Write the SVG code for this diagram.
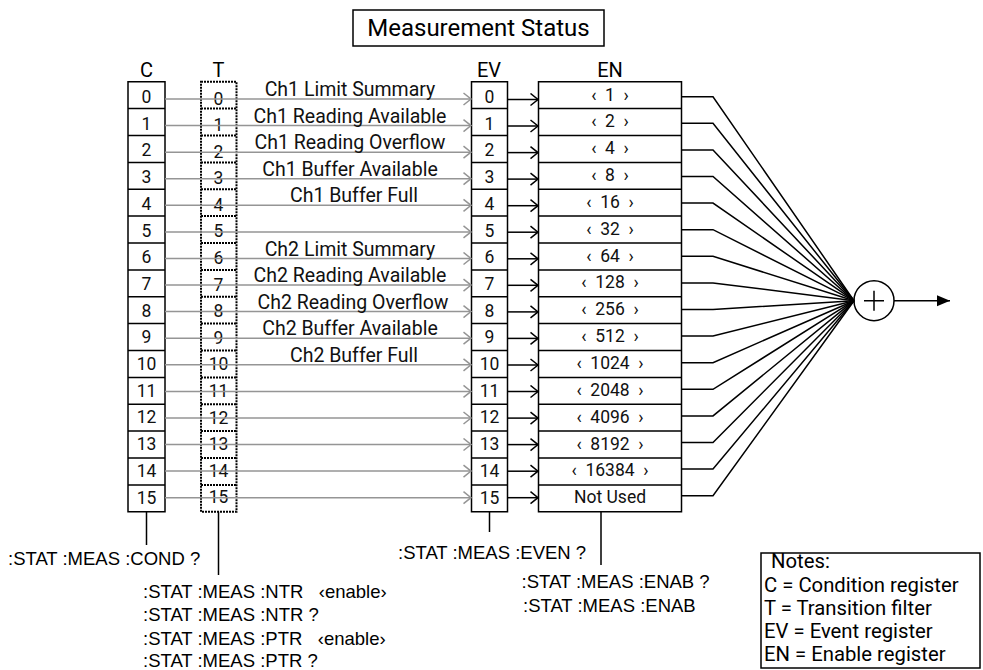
<svg xmlns="http://www.w3.org/2000/svg" width="983" height="670" viewBox="0 0 983 670">
<style>
.bx{fill:#fff;stroke:#000;stroke-width:1.5}
.sep{stroke:#000;stroke-width:1.5}
.dsh{fill:none;stroke:#000;stroke-width:2;stroke-dasharray:2 1}
.num{font-family:Roboto,"Liberation Sans",sans-serif;font-size:17.5px;text-anchor:middle;fill:#111;white-space:pre}
.hdr{font-family:Roboto,"Liberation Sans",sans-serif;font-size:20px;text-anchor:middle;fill:#000}
.lbl{font-family:Roboto,"Liberation Sans",sans-serif;font-size:19.5px;text-anchor:middle;fill:#111}
.cmd{font-family:"Liberation Sans",Arial,sans-serif;font-size:18.5px;fill:#000;white-space:pre}
.note{font-family:Roboto,"Liberation Sans",sans-serif;font-size:20.3px;fill:#000}
.g{stroke:#959595;stroke-width:1.5;fill:none}
.k{stroke:#000;stroke-width:1.5;fill:none}
</style>
<defs>
<marker id="og" markerUnits="userSpaceOnUse" markerWidth="10" markerHeight="14" refX="8.5" refY="7" orient="auto">
<path d="M1,1 L8.5,7 L1,13" fill="none" stroke="#959595" stroke-width="1.5"/>
</marker>
<marker id="ok" markerUnits="userSpaceOnUse" markerWidth="10" markerHeight="14" refX="8.5" refY="7" orient="auto">
<path d="M1,1 L8.5,7 L1,13" fill="none" stroke="#000" stroke-width="1.5"/>
</marker>
<marker id="fk" markerUnits="userSpaceOnUse" markerWidth="14" markerHeight="12" refX="13" refY="6" orient="auto">
<path d="M0,0.5 L13,6 L0,11.5 Z" fill="#000"/>
</marker>
</defs>
<rect width="983" height="670" fill="#fff"/>

<g id="title">
<rect x="353" y="10" width="251" height="36" class="bx"/>
<text x="478.5" y="36" class="hdr" style="font-size:24px">Measurement Status</text>
</g>

<g id="headers">
<text x="146.5" y="77" class="hdr">C</text>
<text x="218.5" y="77" class="hdr">T</text>
<text x="489" y="77" class="hdr">EV</text>
<text x="610" y="77" class="hdr">EN</text>
</g>

<g id="reg-C">
<rect x="128" y="81.75" width="37" height="430" class="bx"/>
<path class="sep" d="M128,108.6H165M128,135.5H165M128,162.4H165M128,189.3H165M128,216.1H165M128,243H165M128,269.9H165M128,296.8H165M128,323.6H165M128,350.5H165M128,377.4H165M128,404.3H165M128,431.1H165M128,458H165M128,484.9H165"/>
<text class="num" x="146.5" y="103">0</text><text class="num" x="146.5" y="129.7">1</text><text class="num" x="146.5" y="156.4">2</text><text class="num" x="146.5" y="183.1">3</text><text class="num" x="146.5" y="209.8">4</text><text class="num" x="146.5" y="236.5">5</text><text class="num" x="146.5" y="263.2">6</text><text class="num" x="146.5" y="289.9">7</text><text class="num" x="146.5" y="316.6">8</text><text class="num" x="146.5" y="343.3">9</text><text class="num" x="146.5" y="370">10</text><text class="num" x="146.5" y="396.7">11</text><text class="num" x="146.5" y="423.4">12</text><text class="num" x="146.5" y="450.1">13</text><text class="num" x="146.5" y="476.8">14</text><text class="num" x="146.5" y="503.5">15</text>
</g>

<g id="reg-T">
<rect x="201" y="81.75" width="35.5" height="430" class="dsh"/>
<path class="dsh" d="M201,108.6H236.5M201,135.5H236.5M201,162.4H236.5M201,189.3H236.5M201,216.1H236.5M201,243H236.5M201,269.9H236.5M201,296.8H236.5M201,323.6H236.5M201,350.5H236.5M201,377.4H236.5M201,404.3H236.5M201,431.1H236.5M201,458H236.5M201,484.9H236.5"/>
<text class="num" x="218.5" y="104.5">0</text><text class="num" x="218.5" y="131">1</text><text class="num" x="218.5" y="157.6">2</text><text class="num" x="218.5" y="184.2">3</text><text class="num" x="218.5" y="210.8">4</text><text class="num" x="218.5" y="237.4">5</text><text class="num" x="218.5" y="264">6</text><text class="num" x="218.5" y="290.6">7</text><text class="num" x="218.5" y="317.2">8</text><text class="num" x="218.5" y="343.8">9</text><text class="num" x="218.5" y="370.4">10</text><text class="num" x="218.5" y="397">11</text><text class="num" x="218.5" y="423.6">12</text><text class="num" x="218.5" y="450.2">13</text><text class="num" x="218.5" y="476.8">14</text><text class="num" x="218.5" y="503.4">15</text>
</g>

<g id="reg-EV">
<rect x="471.5" y="81.75" width="36" height="430" class="bx"/>
<path class="sep" d="M471.5,108.6H507.5M471.5,135.5H507.5M471.5,162.4H507.5M471.5,189.3H507.5M471.5,216.1H507.5M471.5,243H507.5M471.5,269.9H507.5M471.5,296.8H507.5M471.5,323.6H507.5M471.5,350.5H507.5M471.5,377.4H507.5M471.5,404.3H507.5M471.5,431.1H507.5M471.5,458H507.5M471.5,484.9H507.5"/>
<text class="num" x="489.5" y="103">0</text><text class="num" x="489.5" y="129.7">1</text><text class="num" x="489.5" y="156.4">2</text><text class="num" x="489.5" y="183.1">3</text><text class="num" x="489.5" y="209.8">4</text><text class="num" x="489.5" y="236.5">5</text><text class="num" x="489.5" y="263.2">6</text><text class="num" x="489.5" y="289.9">7</text><text class="num" x="489.5" y="316.6">8</text><text class="num" x="489.5" y="343.3">9</text><text class="num" x="489.5" y="370">10</text><text class="num" x="489.5" y="396.7">11</text><text class="num" x="489.5" y="423.4">12</text><text class="num" x="489.5" y="450.1">13</text><text class="num" x="489.5" y="476.8">14</text><text class="num" x="489.5" y="503.5">15</text>
</g>

<g id="reg-EN">
<rect x="538.5" y="81.75" width="143" height="430" class="bx"/>
<path class="sep" d="M538.5,108.6H681.5M538.5,135.5H681.5M538.5,162.4H681.5M538.5,189.3H681.5M538.5,216.1H681.5M538.5,243H681.5M538.5,269.9H681.5M538.5,296.8H681.5M538.5,323.6H681.5M538.5,350.5H681.5M538.5,377.4H681.5M538.5,404.3H681.5M538.5,431.1H681.5M538.5,458H681.5M538.5,484.9H681.5"/>
<text class="num" x="610" y="100.5">‹  1  ›</text><text class="num" x="610" y="127.3">‹  2  ›</text><text class="num" x="610" y="154.2">‹  4  ›</text><text class="num" x="610" y="181">‹  8  ›</text><text class="num" x="610" y="207.9">‹  16  ›</text><text class="num" x="610" y="234.7">‹  32  ›</text><text class="num" x="610" y="261.6">‹  64  ›</text><text class="num" x="610" y="288.4">‹  128  ›</text><text class="num" x="610" y="315.3">‹  256  ›</text><text class="num" x="610" y="342.1">‹  512  ›</text><text class="num" x="610" y="369">‹  1024  ›</text><text class="num" x="610" y="395.8">‹  2048  ›</text><text class="num" x="610" y="422.7">‹  4096  ›</text><text class="num" x="610" y="449.5">‹  8192  ›</text><text class="num" x="610" y="476.4">‹  16384  ›</text><text class="num" x="610" y="503">Not Used</text>
</g>

<g id="sum">
<circle cx="874" cy="300.7" r="20" fill="#fff" stroke="#000" stroke-width="1.5"/>
<path d="M864,300.7H884M874,290.7V310.7" stroke="#000" stroke-width="1.5"/>
</g>

<g id="connectors">
<g class="g" marker-end="url(#og)">
<path d="M165,99H471"/><path d="M165,125.6H471"/><path d="M165,152.2H471"/><path d="M165,178.7H471"/><path d="M165,205.3H471"/><path d="M165,231.9H471"/><path d="M165,258.5H471"/><path d="M165,285.1H471"/><path d="M165,311.6H471"/><path d="M165,338.2H471"/><path d="M165,364.8H471"/><path d="M165,391.4H471"/><path d="M165,418H471"/><path d="M165,444.5H471"/><path d="M165,471.1H471"/><path d="M165,497.7H471"/>
</g>
<g class="k" marker-end="url(#ok)">
<path d="M507.5,99.5H538"/><path d="M507.5,126H538"/><path d="M507.5,152.6H538"/><path d="M507.5,179.1H538"/><path d="M507.5,205.7H538"/><path d="M507.5,232.2H538"/><path d="M507.5,258.8H538"/><path d="M507.5,285.3H538"/><path d="M507.5,311.9H538"/><path d="M507.5,338.4H538"/><path d="M507.5,365H538"/><path d="M507.5,391.5H538"/><path d="M507.5,418.1H538"/><path d="M507.5,444.6H538"/><path d="M507.5,471.2H538"/><path d="M507.5,497.7H538"/>
</g>
<g class="k">
<polyline points="681.5,96.7 713,96.7 854,300.7"/><polyline points="681.5,123.3 713,123.3 854,300.7"/><polyline points="681.5,149.9 713,149.9 854,300.7"/><polyline points="681.5,176.5 713,176.5 854,300.7"/><polyline points="681.5,203.1 713,203.1 854,300.7"/><polyline points="681.5,229.7 713,229.7 854,300.7"/><polyline points="681.5,256.3 713,256.3 854,300.7"/><polyline points="681.5,282.9 713,282.9 854,300.7"/><polyline points="681.5,309.5 713,309.5 854,300.7"/><polyline points="681.5,336.1 713,336.1 854,300.7"/><polyline points="681.5,362.7 713,362.7 854,300.7"/><polyline points="681.5,389.3 713,389.3 854,300.7"/><polyline points="681.5,415.9 713,415.9 854,300.7"/><polyline points="681.5,442.5 713,442.5 854,300.7"/><polyline points="681.5,469.1 713,469.1 854,300.7"/><polyline points="681.5,495.7 713,495.7 854,300.7"/>
</g>
<path class="k" d="M894,300.7H950" marker-end="url(#fk)"/>
<path class="k" d="M146.5,511.75V545M218.5,511.75V575M489.5,511.75V532M601,511.75V565"/>
</g>

<g id="labels">
<text class="lbl" x="350" y="96">Ch1 Limit Summary</text>
<text class="lbl" x="350" y="122.6">Ch1 Reading Available</text>
<text class="lbl" x="350" y="149.2">Ch1 Reading Overflow</text>
<text class="lbl" x="350" y="175.7">Ch1 Buffer Available</text>
<text class="lbl" x="354" y="202.3">Ch1 Buffer Full</text>
<text class="lbl" x="350" y="255.5">Ch2 Limit Summary</text>
<text class="lbl" x="350" y="282.1">Ch2 Reading Available</text>
<text class="lbl" x="353" y="308.6">Ch2 Reading Overflow</text>
<text class="lbl" x="350" y="335.2">Ch2 Buffer Available</text>
<text class="lbl" x="354" y="361.8">Ch2 Buffer Full</text>
</g>

<g id="commands">
<text class="cmd" x="8" y="565">:STAT :MEAS :COND ?</text>
<text class="cmd" x="143" y="597.5">:STAT :MEAS :NTR   ‹enable›</text>
<text class="cmd" x="143" y="621">:STAT :MEAS :NTR ?</text>
<text class="cmd" x="143" y="644.5">:STAT :MEAS :PTR   ‹enable›</text>
<text class="cmd" x="143" y="667">:STAT :MEAS :PTR ?</text>
<text class="cmd" x="398" y="559">:STAT :MEAS :EVEN ?</text>
<text class="cmd" x="521.5" y="588">:STAT :MEAS :ENAB ?</text>
<text class="cmd" x="523" y="611.5">:STAT :MEAS :ENAB</text>
</g>

<g id="notes">
<rect x="761" y="553" width="219" height="115" class="bx"/>
<text class="note" x="771" y="568">Notes:</text>
<text class="note" x="764" y="592">C = Condition register</text>
<text class="note" x="764" y="615">T = Transition filter</text>
<text class="note" x="764" y="638">EV = Event register</text>
<text class="note" x="764" y="661">EN = Enable register</text>
</g>
</svg>
